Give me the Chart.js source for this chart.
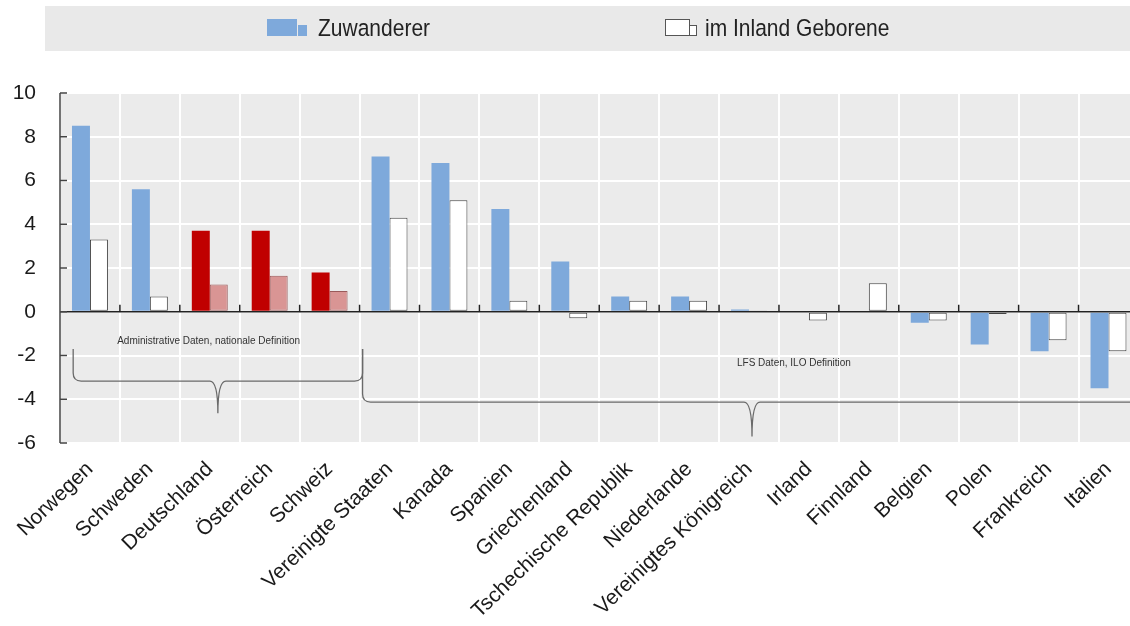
<!DOCTYPE html>
<html>
<head>
<meta charset="utf-8">
<script src="https://cdn.jsdelivr.net/npm/chart.js@4/dist/chart.umd.min.js"></script>
<style>
  html, body { margin: 0; padding: 0; background: #fff; overflow: hidden; }
  .wrap { position: relative; width: 1130px; height: 626px; overflow: hidden; }
  .legend { position: absolute; left: 45px; top: 6px; width: 1085px; height: 45px; background: #e9e9e9; }
  .item { position: absolute; top: 0; height: 45px; font: 21px "Liberation Sans", Arial, sans-serif; color: #222; line-height: 44px; }
  .item span { display: inline-block; transform: scaleY(1.12); }
  .sw { position: absolute; box-sizing: border-box; }
  canvas { position: absolute; left: 0; top: 0; }
</style>
</head>
<body>
<div class="wrap">
  <canvas id="chart" width="1140" height="626"></canvas>
  <div class="legend">
    <div class="item" style="left:222px;width:200px">
      <div class="sw" style="left:0;top:13px;width:30px;height:17px;background:#7ea9db"></div>
      <div class="sw" style="left:31px;top:19px;width:9px;height:11px;background:#7ea9db"></div>
      <span style="position:absolute;left:51px">Zuwanderer</span>
    </div>
    <div class="item" style="left:620px;width:300px">
      <div class="sw" style="left:0;top:13px;width:25px;height:17px;background:#fff;border:1px solid #555"></div>
      <div class="sw" style="left:24px;top:19px;width:8px;height:11px;background:#fff;border:1px solid #555"></div>
      <span style="position:absolute;left:40px">im Inland Geborene</span>
    </div>
  </div>
</div>
<script>
const countries = ['Norwegen', 'Schweden', 'Deutschland', 'Österreich', 'Schweiz',
  'Vereinigte Staaten', 'Kanada', 'Spanien', 'Griechenland', 'Tschechische Republik',
  'Niederlande', 'Vereinigtes Königreich', 'Irland', 'Finnland', 'Belgien', 'Polen',
  'Frankreich', 'Italien'];
const zuwanderer = [8.5, 5.6, 3.7, 3.7, 1.8, 7.1, 6.8, 4.7, 2.3, 0.7, 0.7, 0.1, 0.05, 0, -0.5, -1.5, -1.8, -3.5];
const inlandGeborene = [3.3, 0.7, 1.25, 1.65, 0.95, 4.3, 5.1, 0.5, -0.3, 0.5, 0.5, 0.02, -0.4, 1.3, -0.4, -0.1, -1.3, -1.8];
const yTicks = [10, 8, 6, 4, 2, 0, -2, -4, -6];
// countries with administrative data (highlighted in red)
const adminIdx = [2, 3, 4];

const blue = '#7ea9db';
const red = '#c00000';
const pink = '#d99594';

const plotBits = {
  id: 'plotBits',
  beforeDraw(chart) {
    const { ctx, chartArea: a } = chart;
    ctx.save();
    ctx.fillStyle = '#ebebeb';
    ctx.fillRect(a.left, a.top, a.right - a.left, a.bottom - a.top);
    ctx.restore();
  },
  afterDatasetsDraw(chart) {
    const { ctx, chartArea: a, scales: { x, y } } = chart;
    const y0 = y.getPixelForValue(0);
    ctx.save();
    // zero line
    ctx.strokeStyle = '#222';
    ctx.lineWidth = 1.5;
    ctx.beginPath();
    ctx.moveTo(a.left, y0);
    ctx.lineTo(a.right, y0);
    ctx.stroke();
    // small ticks between categories on the zero line
    for (let i = 0; i < countries.length; i++) {
      const px = x.getPixelForValue(i + 0.5);
      ctx.beginPath();
      ctx.moveTo(px, y0);
      ctx.lineTo(px, y0 - 7);
      ctx.stroke();
    }
    // left axis with inward ticks
    ctx.strokeStyle = '#444';
    ctx.beginPath();
    ctx.moveTo(a.left, a.top);
    ctx.lineTo(a.left, a.bottom);
    ctx.stroke();
    yTicks.forEach(v => {
      const py = y.getPixelForValue(v);
      ctx.beginPath();
      ctx.moveTo(a.left, py);
      ctx.lineTo(a.left + 7, py);
      ctx.stroke();
    });

    // braces and notes
    ctx.strokeStyle = '#6a6a6a';
    ctx.lineWidth = 1.3;
    const brace = (i0, i1, vTop, vMid, vTip, openRight) => {
      const xl = x.getPixelForValue(i0), xr = x.getPixelForValue(i1);
      const xm = (xl + xr) / 2;
      const yt = y.getPixelForValue(vTop), ym = y.getPixelForValue(vMid), yp = y.getPixelForValue(vTip);
      ctx.beginPath();
      ctx.moveTo(xl, yt);
      ctx.lineTo(xl, ym - 8);
      ctx.quadraticCurveTo(xl, ym, xl + 8, ym);
      ctx.lineTo(xm - 8, ym);
      ctx.quadraticCurveTo(xm, ym, xm, yp);
      ctx.quadraticCurveTo(xm, ym, xm + 8, ym);
      if (openRight) {
        ctx.lineTo(xr, ym);
      } else {
        ctx.lineTo(xr - 8, ym);
        ctx.quadraticCurveTo(xr, ym, xr, ym - 8);
        ctx.lineTo(xr, yt);
      }
      ctx.stroke();
    };
    brace(-0.28, 4.55, -1.7, -3.17, -4.64, false);
    brace(4.55, 17.55, -1.7, -4.13, -5.7, true);

    ctx.fillStyle = '#333';
    ctx.font = '10px "Liberation Sans", Arial, sans-serif';
    ctx.textAlign = 'center';
    ctx.textBaseline = 'middle';
    ctx.fillText('Administrative Daten, nationale Definition', x.getPixelForValue(1.98), y.getPixelForValue(-1.33));
    ctx.fillText('LFS Daten, ILO Definition', x.getPixelForValue(11.75), y.getPixelForValue(-2.34));
    ctx.restore();
  }
};

new Chart(document.getElementById('chart'), {
  type: 'bar',
  data: {
    labels: countries,
    datasets: [
      {
        label: 'Zuwanderer',
        data: zuwanderer,
        backgroundColor: countries.map((c, i) => adminIdx.includes(i) ? red : blue),
        borderWidth: 0,
        categoryPercentage: 0.6,
        barPercentage: 1.0,
      },
      {
        label: 'im Inland Geborene',
        data: inlandGeborene,
        backgroundColor: countries.map((c, i) => adminIdx.includes(i) ? pink : '#ffffff'),
        borderColor: countries.map((c, i) => adminIdx.includes(i) ? '#9a5a5a' : '#444'),
        borderWidth: 1,
        borderSkipped: false,
        categoryPercentage: 0.6,
        barPercentage: 1.0,
      },
    ],
  },
  options: {
    responsive: false,
    animation: false,
    layout: { padding: { top: 93, left: 0, right: 0, bottom: 0 } },
    plugins: {
      legend: { display: false },
      tooltip: { enabled: false },
    },
    scales: {
      x: {
        grid: { color: '#ffffff', lineWidth: 2, drawTicks: false, offset: true },
        border: { display: false },
        ticks: {
          autoSkip: false,
          minRotation: 44,
          maxRotation: 44,
          padding: 14,
          color: '#1a1a1a',
          font: { family: '"Liberation Sans", Arial, sans-serif', size: 21 },
        },
        afterFit(scale) { scale.height = 183; },
      },
      y: {
        min: -6,
        max: 10,
        afterBuildTicks(scale) { scale.ticks = yTicks.map(v => ({ value: v })); },
        grid: { color: '#ffffff', lineWidth: 2, drawTicks: false },
        border: { display: false },
        ticks: {
          padding: 24,
          color: '#1a1a1a',
          font: { family: '"Liberation Sans", Arial, sans-serif', size: 21 },
        },
        afterFit(scale) { scale.width = 60; },
      },
    },
  },
  plugins: [plotBits],
});
</script>
</body>
</html>
